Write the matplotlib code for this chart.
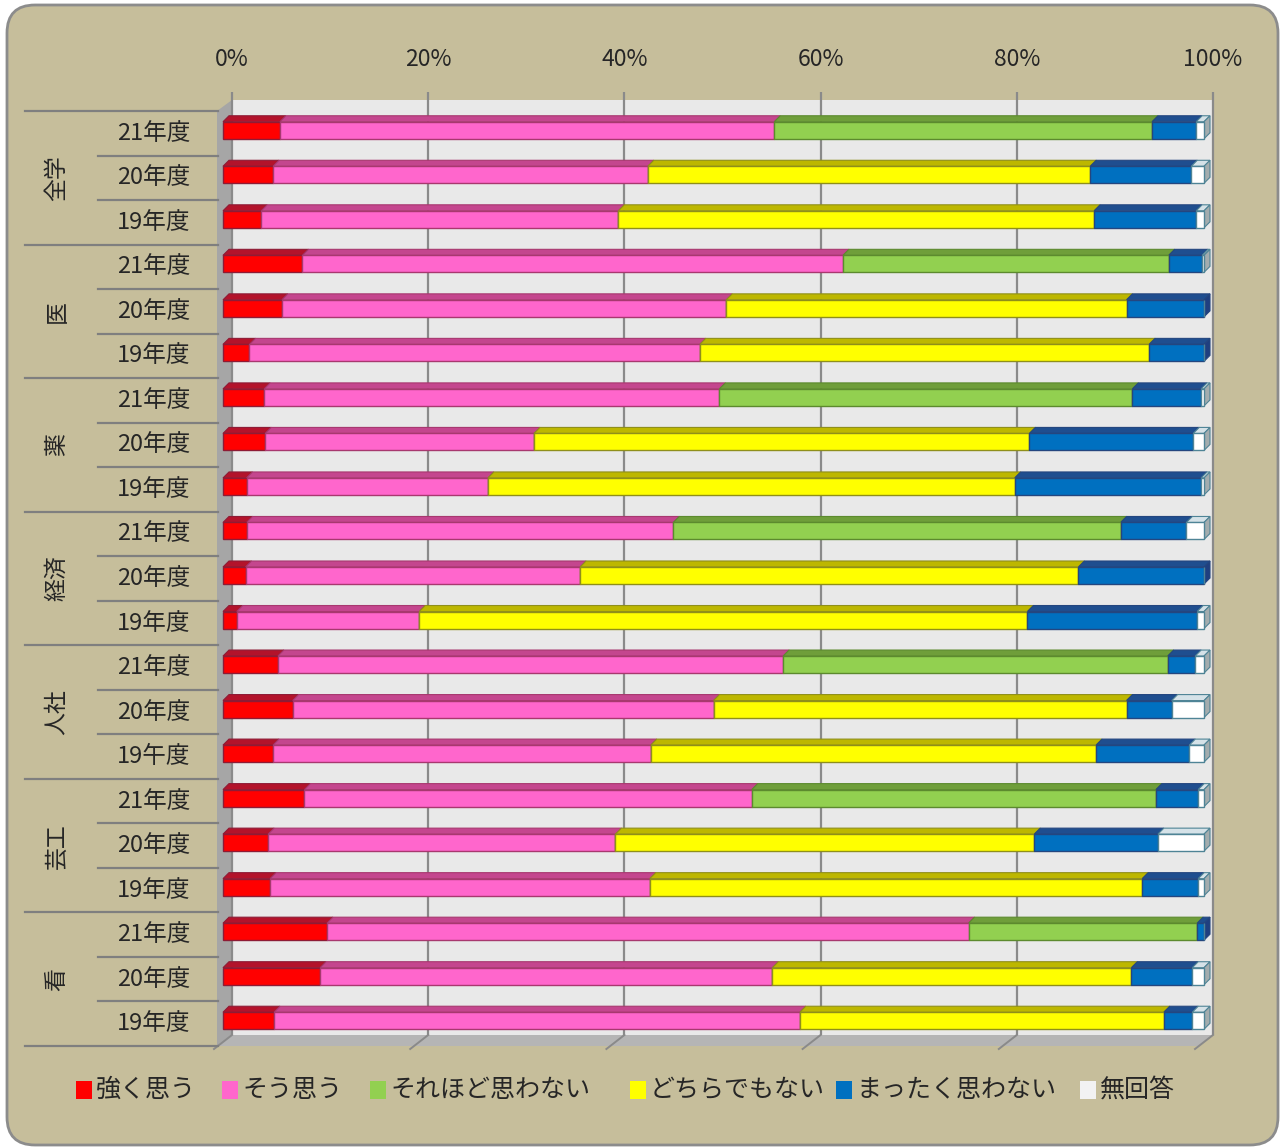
import numpy as np
import matplotlib
matplotlib.use('Agg')
import matplotlib.pyplot as plt
from matplotlib import transforms
from matplotlib.patches import Polygon, Rectangle, FancyBboxPatch

# ---- font ----
plt.rcParams['font.family'] = ['Noto Sans CJK JP', 'DejaVu Sans']

# ---- data (%), rows top to bottom ----
groups = ['全学', '医', '薬', '経済', '人社', '芸工', '看']
years = ['21年度', '20年度', '19年度']
series_names = ['強く思う', 'そう思う', 'それほど思わない', 'どちらでもない', 'まったく思わない', '無回答']

strongly = [5.8, 5.1, 3.9, 8.1, 6.0, 2.7, 4.2, 4.3, 2.4, 2.4, 2.3, 1.4,
            5.6, 7.1, 5.1, 8.3, 4.6, 4.8, 10.6, 9.9, 5.2]
agree = [50.4, 38.2, 36.4, 55.1, 45.3, 45.9, 46.4, 27.4, 24.6, 43.5, 34.1, 18.6,
         51.5, 42.9, 38.5, 45.6, 35.4, 38.7, 65.4, 46.1, 53.6]
not_much = [38.5, 0, 0, 33.2, 0, 0, 42.1, 0, 0, 45.6, 0, 0,
            39.2, 0, 0, 41.2, 0, 0, 23.3, 0, 0]
neutral = [0, 45.1, 48.5, 0, 40.8, 45.8, 0, 50.5, 53.7, 0, 50.8, 62.0,
           0, 42.1, 45.4, 0, 42.7, 50.2, 0, 36.6, 37.1]
not_at_all = [4.5, 10.3, 10.4, 3.4, 7.9, 5.6, 7.0, 16.7, 19.0, 6.7, 12.8, 17.3,
              2.8, 4.6, 9.5, 4.3, 12.6, 5.7, 0.7, 6.2, 2.9]
no_answer = [0.8, 1.3, 0.8, 0.2, 0.0, 0.0, 0.3, 1.1, 0.3, 1.8, 0.0, 0.7,
             0.9, 3.3, 1.5, 0.6, 4.7, 0.6, 0.0, 1.2, 1.2]

row_labels = years * len(groups)
row_labels[14] = '19午度'   # 原图如此

# ---- colors ----
face_colors = ['#FF0000', '#FF66CC', '#92D050', '#FFFF00', '#0070C0', '#FFFFFF']
top_colors = ['#B3132B', '#C4468E', '#6F9E3A', '#BDB700', '#1F4E8F', '#D5E2E8']
edge_colors = ['#8E1B35', '#A8386F', '#5C8A2E', '#8F8F1A', '#24467F', '#4F8496']
side_colors = ['#8E1B35', '#A8386F', '#5C8A2E', '#8F8F1A', '#1F3F80', '#A3ACAE']
legend_colors = ['#FF0000', '#FF66CC', '#92D050', '#FFFF00', '#0070C0', '#F2F2F2']
text_color = '#262626'

W, H = 1282, 1148
fig = plt.figure(figsize=(W / 100, H / 100), dpi=100)
fig.patch.set_facecolor('white')

# ---- 外框 ----
frame = FancyBboxPatch((7 / 100, 3 / 100), 1271 / 100, 1140 / 100,
                       boxstyle='round,pad=0,rounding_size=0.28',
                       transform=fig.dpi_scale_trans,
                       fc='#C6BE9B', ec='#8C8C8C', lw=2, zorder=-10)
fig.patches.append(frame)

# ---- back wall axes ----
L, R, T, B = 232, 1213, 100, 1035
ax = fig.add_axes([L / W, 1 - B / H, (R - L) / W, (B - T) / H])
n = len(strongly)
ax.set_xlim(0, 100)
ax.set_ylim(n, 0)
ax.set_facecolor('#E9E9E9')
for s in ax.spines.values():
    s.set_visible(False)
ax.set_xticks([])
ax.set_yticks([])

px = 100 / (R - L)     # data per pixel
py = n / (B - T)
wx, wy = 15 * px, 11 * py   # wall depth

# ---- left wall & floor ----
ax.add_patch(Polygon([(0, 0), (0, n), (-wx, n + wy), (-wx, wy)],
                     fc='#A6A6A6', ec='none', clip_on=False, zorder=1))
ax.add_patch(Polygon([(0, n), (100, n), (100 - wx, n + wy), (-wx, n + wy)],
                     fc='#B5B5B5', ec='none', clip_on=False, zorder=1))

# ---- grid & tick labels ----
ticks = np.arange(0, 101, 20)
ax.vlines(ticks, -8 * py, n, color='#8A8A8A', lw=1.6, clip_on=False, zorder=1.5)
for t in ticks:
    ax.plot([t, t - wx - 3 * px], [n, n + wy + 3 * py], color='#8A8A8A', lw=1.4,
            clip_on=False, zorder=1.5)
    ax.text(t, -40 * py, '%d%%' % t, ha='center', va='center', fontsize=16.5,
            color=text_color)

# ---- bars ----
values = np.array([strongly, agree, not_much, neutral, not_at_all, no_answer])
rows = np.arange(n)
fx, fy = -9 * px, 8 * py
bh = 17 * py
dx, dy = 6 * px, 6 * py
yc = rows + 0.5 + fy
lefts = np.zeros(n)
last_k = np.zeros(n, dtype=int)
for k in range(values.shape[0]):
    w = values[k]
    ax.barh(yc, w, left=lefts + fx, height=bh, color=face_colors[k],
            edgecolor=edge_colors[k], lw=1, zorder=3, clip_on=False)
    for i in range(n):
        if w[i] <= 0:
            continue
        last_k[i] = k
        x0 = lefts[i] + fx
        x1 = x0 + w[i]
        top = yc[i] - bh / 2
        ax.add_patch(Polygon([(x0, top), (x1, top), (x1 + dx, top - dy), (x0 + dx, top - dy)],
                             fc=top_colors[k], ec=edge_colors[k], lw=0.8, zorder=2,
                             clip_on=False))
    lefts += w

# 右端侧面
for i in range(n):
    k = last_k[i]
    x1 = lefts[i] + fx
    top = yc[i] - bh / 2
    bot = yc[i] + bh / 2
    ax.add_patch(Polygon([(x1, top), (x1 + dx, top - dy), (x1 + dx, bot - dy), (x1, bot)],
                         fc=side_colors[k], ec=edge_colors[k], lw=0.8, zorder=2.5,
                         clip_on=False))

# ---- category labels ----
px_tr = transforms.blended_transform_factory(transforms.IdentityTransform(), ax.transData)
sy = wy
for i in range(n + 1):
    xa = 25 if i % 3 == 0 else 98
    ax.plot([xa, 218], [i + sy, i + sy], transform=px_tr, color='#7F7F7F', lw=1.6,
            clip_on=False)
for i in range(n):
    ax.text(154, i + 0.5 + sy, row_labels[i], transform=px_tr, ha='center', va='center',
            fontsize=17, color=text_color)
for g, name in enumerate(groups):
    ax.text(57, g * 3 + 1.5 + sy, name, transform=px_tr, ha='center', va='center',
            rotation=90, fontsize=16.5, color=text_color)

# ---- legend ----
leg_x = [76, 222, 370, 630, 836, 1080]
for k, name in enumerate(series_names):
    fig.patches.append(Rectangle((leg_x[k] / W, 1 - 1099 / H), 16 / W, 18 / H,
                                 transform=fig.transFigure, fc=legend_colors[k], ec='none'))
    fig.text((leg_x[k] + 20) / W, 1 - 1090 / H, name, ha='left', va='center',
             fontsize=18, color=text_color)

fig.savefig('out.png', dpi=100)
plt.close()
